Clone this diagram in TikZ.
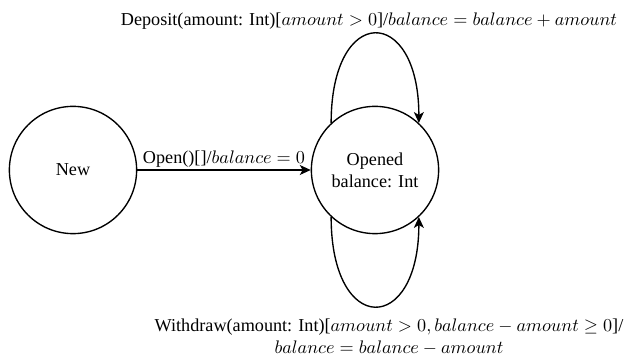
\documentclass[tikz,border=0pt]{standalone}
\usepackage{fontspec}
\setmainfont{Liberation Serif}
\usetikzlibrary{arrows.meta}
\begin{document}
\begin{tikzpicture}[
		x=0.55pt,y=0.55pt,
		>=Latex,
		state/.style={circle, draw, line width=0.75pt, minimum size=70pt, inner sep=0pt, align=center},
		trans/.style={-{Stealth[length=6pt,width=5.5pt,inset=1.6pt]}, line width=0.75pt},
		translabel/.style={font=\normalsize, align=center, inner sep=1pt}
	]
	\useasboundingbox (0,0) rectangle (626,356);
	
	% States
	\node[state] (new)    at (73,186)  {New};
	\node[state] (opened) at (375,186) {Opened\\balance: Int};
	
	% Open transition
	\draw[trans] (new) -- node[translabel, above] {Open()[]/$balance = 0$} (opened);
	
	% Self loops on opened
	\draw[trans] (opened.133) .. controls +(0,120) and +(0,118) .. (opened.47);
	\draw[trans] (opened.227) .. controls +(0,-120) and +(0,-118) .. (opened.313);
	
	% Loop labels
	\node[translabel] (deplabel) at (369,335) {Deposit(amount: Int)[$amount > 0$]/$balance = balance + amount$};
	\node[translabel] (wdlabel)  at (389,19)  {Withdraw(amount: Int)[$amount > 0, balance - amount \geq 0$]/\\$balance = balance - amount$};
	
\end{tikzpicture}
\end{document}
